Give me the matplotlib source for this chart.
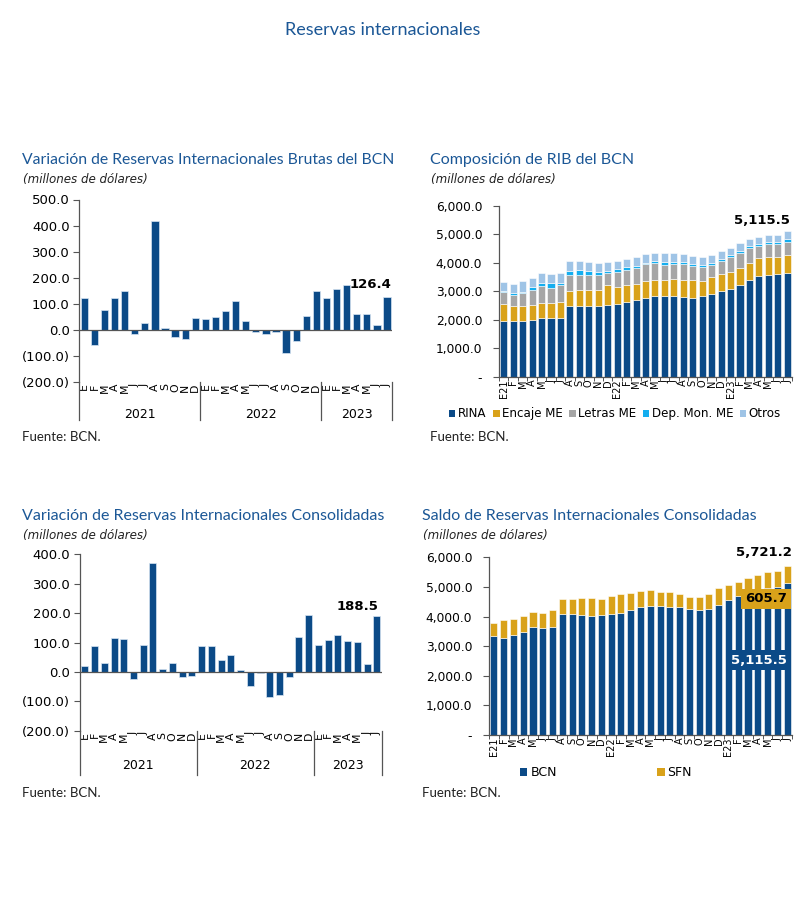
import matplotlib
matplotlib.use("Agg")
import matplotlib.pyplot as plt
import numpy as np
from matplotlib.ticker import FuncFormatter, FixedLocator
from matplotlib.patches import Patch
import matplotlib.transforms as mtransforms

# ---------------- data ----------------
months_short = ['E', 'F', 'M', 'A', 'M', 'J', 'J', 'A', 'S', 'O', 'N', 'D',
                'E', 'F', 'M', 'A', 'M', 'J', 'J', 'A', 'S', 'O', 'N', 'D',
                'E', 'F', 'M', 'A', 'M', 'J', 'J']
months_comp = ['E21', 'F', 'M', 'A', 'M', 'J', 'J', 'A', 'S', 'O', 'N', 'D',
               'E22', 'F', 'M', 'A', 'M', 'J', 'J', 'A', 'S', 'O', 'N', 'D',
               'E23', 'F', 'M', 'A', 'M', 'J', 'J']
years = ['2021', '2022', '2023']
year_counts = [12, 12, 7]

var_brutas = [121, -57, 78, 121, 150, -14, 28, 416, 6, -27, -36, 47,
              41, 50, 74, 112, 34, -8, -17, -8, -87, -43, 52, 150,
              121, 158, 173, 62, 59, 17, 126.4]

var_consol = [20, 89, 31, 115, 111, -23, 93, 370, 10, 31, -17, -14,
              89, 87, 40, 59, 8, -49, -4, -84, -77, -17, 118, 192,
              93, 108, 125, 105, 103, 26, 188.5]

rina = [1950, 1950, 1950, 2000, 2050, 2050, 2080, 2470, 2480, 2490, 2500, 2520,
        2550, 2640, 2700, 2770, 2840, 2820, 2840, 2810, 2760, 2820, 2900, 3010,
        3090, 3210, 3400, 3540, 3580, 3620, 3650]
encaje = [605, 530, 540, 530, 550, 530, 560, 550, 560, 560, 560, 700,
          590, 590, 570, 580, 560, 580, 580, 590, 640, 560, 600, 590,
          600, 610, 610, 640, 620, 580, 620]
letras = [432, 390, 450, 520, 580, 550, 570, 560, 520, 530, 510, 420,
          550, 530, 550, 600, 590, 530, 540, 550, 490, 480, 440, 450,
          510, 520, 520, 420, 460, 470, 470]
dep_mon = [13, 60, 20, 100, 110, 150, 90, 150, 180, 120, 100, 80,
           90, 80, 60, 60, 60, 110, 80, 80, 70, 60, 50, 80,
           60, 80, 70, 60, 70, 70, 110]
otros = [330, 340, 400, 320, 340, 330, 340, 340, 330, 340, 330, 320,
         300, 290, 320, 310, 290, 300, 290, 290, 280, 280, 270, 270,
         260, 260, 250, 260, 240, 250, 265.5]

bcn = [3337, 3281, 3371, 3483, 3640, 3618, 3652, 4079, 4079, 4045, 4011, 4045,
       4079, 4135, 4213, 4326, 4348, 4348, 4337, 4326, 4247, 4213, 4258, 4404,
       4551, 4685, 4850, 4920, 4970, 4985, 5115.5]
sfn = [461, 618, 550, 551, 506, 506, 561, 505, 517, 584, 607, 551,
       606, 629, 596, 550, 540, 483, 494, 427, 427, 450, 517, 562,
       505, 495, 442, 484, 524, 554, 605.7]

# ---------------- style ----------------
W, H = 807, 900
DARK = '#0B4A87'
GOLD = '#D9A21A'
GRAY = '#A6A6A6'
CYAN = '#14AEEF'
LBLUE = '#9FC4E6'
TITLE_C = '#1B5796'
TFONT = 'Lato'
NFONT = 'DejaVu Sans'

fig = plt.figure(figsize=(W / 100, H / 100), dpi=100)


def fx(px):
    return px / W


def fy(py):
    return 1 - py / H


def ax_at(left, top, right, bottom):
    return fig.add_axes([fx(left), fy(bottom), fx(right) - fx(left), fy(top) - fy(bottom)])


fig.text(fx(383), fy(30), 'Reservas internacionales', ha='center', va='center',
         color=TITLE_C, fontsize=13, family=TFONT)


def titles(x, y, title, sub, size=11.5):
    fig.text(fx(x), fy(y), title, ha='left', va='center', color=TITLE_C,
             fontsize=size, family=TFONT)
    fig.text(fx(x + 1), fy(y + 20), sub, ha='left', va='center', color='#222222',
             fontsize=8.6, family=NFONT, style='italic')


def source(x, y):
    fig.text(fx(x), fy(y), 'Fuente: BCN.', ha='left', va='center', color='#222222',
             fontsize=9.5, family=TFONT)


paren_fmt = FuncFormatter(lambda v, p: f"({abs(v):.1f})" if v < 0 else f"{v:.1f}")
thou_fmt = FuncFormatter(lambda v, p: "-" if abs(v) < 1e-9 else f"{v:,.1f}")


def variation_panel(ax, vals, ymin, ymax, step, ext, yr_y, label_val, label_xy):
    x = np.arange(len(vals))
    ax.bar(x, vals, width=0.72, color=DARK, edgecolor='#D6E4F2', linewidth=0.5)
    ax.set_xlim(-0.5, len(vals) - 0.5)
    ax.set_ylim(ymin, ymax)
    ax.set_yticks(np.arange(ymin, ymax + 1, step))
    ax.yaxis.set_major_formatter(paren_fmt)
    for s in ['top', 'right', 'bottom']:
        ax.spines[s].set_visible(False)
    ax.spines['left'].set_color('#555555')
    ax.spines['left'].set_linewidth(0.9)
    ax.axhline(0, color='#555555', lw=0.9)
    ax.tick_params(axis='y', direction='out', length=4, width=0.8, color='#555555',
                   labelsize=9.5, pad=3)
    for t in ax.get_yticklabels():
        t.set_family(NFONT)
    ax.set_xticks(x)
    ax.set_xticklabels(months_short, rotation=90, fontsize=7.8, family=NFONT)
    ax.tick_params(axis='x', length=0, pad=1)
    trans = mtransforms.blended_transform_factory(ax.transData, ax.transAxes)
    edges = np.concatenate([[0], np.cumsum(year_counts)]) - 0.5
    for e in edges:
        ax.plot([e, e], [0, -ext], transform=trans, color='#555555', lw=0.9, clip_on=False)
    for i, yname in enumerate(years):
        ax.text((edges[i] + edges[i + 1]) / 2, yr_y, yname, transform=trans,
                ha='center', va='center', fontsize=9, family=NFONT)
    fig.text(fx(label_xy[0]), fy(label_xy[1]), f"{label_val:,.1f}", ha='right', va='center',
             fontsize=9.5, fontweight='bold', family=NFONT)


# Panel 1
titles(22, 160, 'Variación de Reservas Internacionales Brutas del BCN', '(millones de dólares)', 11.3)
ax1 = ax_at(79.3, 199.5, 392, 382)
variation_panel(ax1, var_brutas, -200, 500, 100, 0.21, -0.18, var_brutas[-1], (391, 284))
source(22, 437)

# Panel 3
titles(22, 516, 'Variación de Reservas Internacionales Consolidadas', '(millones de dólares)')
ax3 = ax_at(80, 554.3, 381.7, 730.7)
variation_panel(ax3, var_consol, -200, 400, 100, 0.25, -0.195, var_consol[-1], (378, 606))
source(22, 793)


def stock_axes(ax, n):
    ax.set_xlim(-0.5, n - 0.5)
    ax.set_ylim(0, 6000)
    ax.set_yticks(np.arange(0, 6001, 1000))
    ax.yaxis.set_major_formatter(thou_fmt)
    for s in ['top', 'right']:
        ax.spines[s].set_visible(False)
    for s in ['left', 'bottom']:
        ax.spines[s].set_color('#555555')
        ax.spines[s].set_linewidth(0.9)
    ax.tick_params(axis='y', direction='out', length=4, width=0.8, color='#555555',
                   labelsize=8.8, pad=8)
    for t in ax.get_yticklabels():
        t.set_family(NFONT)
    ax.set_xticks(np.arange(n))
    ax.set_xticklabels(months_comp, rotation=90, fontsize=7, family=NFONT)
    ax.tick_params(axis='x', which='major', length=0, pad=2)
    ax.xaxis.set_minor_locator(FixedLocator(np.arange(-0.5, n, 1)))
    ax.tick_params(axis='x', which='minor', length=3, width=0.7, color='#555555')


# Panel 2
titles(430, 160, 'Composición de RIB del BCN', '(millones de dólares)')
ax2 = ax_at(499, 205.7, 792, 377)
n = len(rina)
x = np.arange(n)
bottom = np.zeros(n)
comp = [('RINA', rina, DARK), ('Encaje ME', encaje, GOLD), ('Letras ME', letras, GRAY),
        ('Dep. Mon. ME', dep_mon, CYAN), ('Otros', otros, LBLUE)]
for name, vals, col in comp:
    ax2.bar(x, vals, bottom=bottom, width=0.75, color=col, edgecolor='white', linewidth=0.4,
            label=name)
    bottom = bottom + np.array(vals)
stock_axes(ax2, n)
fig.text(fx(790), fy(220), f"{bottom[-1]:,.1f}", ha='right', va='center', fontsize=9.5,
         fontweight='bold', family=NFONT)
handles = [Patch(facecolor=c, edgecolor='none') for _, _, c in comp]
fig.legend(handles, [c[0] for c in comp], loc='center', bbox_to_anchor=(fx(615), fy(414)),
           ncol=5, frameon=False, prop={'family': NFONT, 'size': 8.6},
           handlelength=0.55, handleheight=0.55, handletextpad=0.2, columnspacing=0.55)
source(430, 437)

# Panel 4
titles(422, 516, 'Saldo de Reservas Internacionales Consolidadas', '(millones de dólares)')
ax4 = ax_at(489, 557.3, 792, 735)
n4 = len(bcn)
x4 = np.arange(n4)
ax4.bar(x4, bcn, width=0.72, color=DARK, edgecolor='white', linewidth=0.4, label='BCN')
ax4.bar(x4, sfn, bottom=bcn, width=0.72, color=GOLD, edgecolor='white', linewidth=0.4, label='SFN')
stock_axes(ax4, n4)
total_last = bcn[-1] + sfn[-1]
fig.text(fx(792), fy(553), f"{total_last:,.1f}", ha='right', va='center', fontsize=9.5,
         fontweight='bold', family=NFONT)
fig.text(fx(787), fy(599), f"{sfn[-1]:,.1f}", ha='right', va='center', fontsize=9.5,
         fontweight='bold', family=NFONT, color='black',
         bbox=dict(boxstyle='square,pad=0.3', facecolor=GOLD, edgecolor='none'))
fig.text(fx(787), fy(660), f"{bcn[-1]:,.1f}", ha='right', va='center', fontsize=9.5,
         fontweight='bold', family=NFONT, color='white',
         bbox=dict(boxstyle='square,pad=0.3', facecolor=DARK, edgecolor='none'))
h4 = [Patch(facecolor=DARK, edgecolor='none'), Patch(facecolor=GOLD, edgecolor='none')]
fig.legend(h4, ['BCN', 'SFN'], loc='center', bbox_to_anchor=(fx(606), fy(773)),
           ncol=2, frameon=False, prop={'family': NFONT, 'size': 9},
           handlelength=0.6, handleheight=0.6, handletextpad=0.25, columnspacing=8)
source(422, 793)

fig.savefig('out.png', dpi=100, facecolor='white')
